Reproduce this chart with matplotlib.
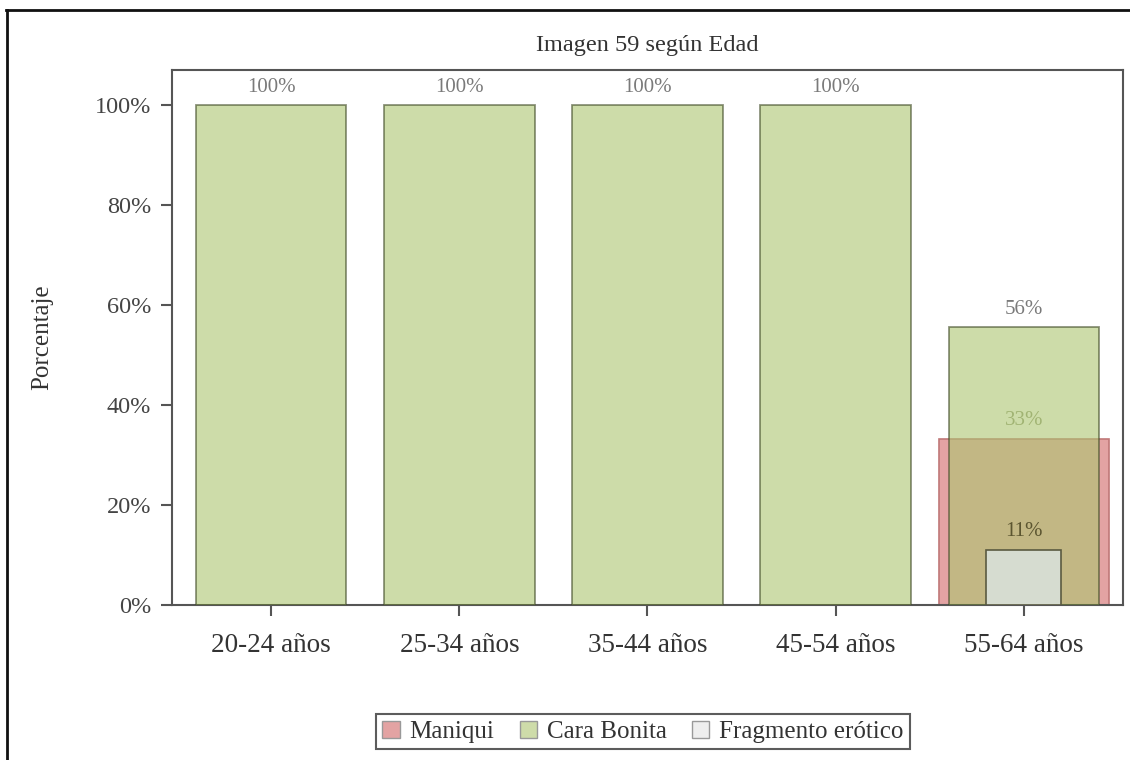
import numpy as np
import matplotlib
matplotlib.use("Agg")
import matplotlib.pyplot as plt
from matplotlib.lines import Line2D
from matplotlib.patches import Patch
from matplotlib.ticker import FuncFormatter

plt.rcParams['font.family'] = ['Liberation Serif', 'DejaVu Serif']

# data
categorias = ['20-24 años', '25-34 años', '35-44 años', '45-54 años', '55-64 años']
series = ['Maniqui', 'Cara Bonita', 'Fragmento erótico']
maniqui = [0, 0, 0, 0, 33.3]
cara_bonita = [100, 100, 100, 100, 55.6]
fragmento = [0, 0, 0, 0, 11.1]
etiquetas_y = [0, 20, 40, 60, 80, 100]

x = np.arange(len(categorias))

fig = plt.figure(figsize=(11.3, 7.6), dpi=100)
ax = fig.add_axes([0.1522, 0.2039, 0.8416, 0.704])

# red (wide), green (alpha), gray (narrow) overlapping like SAS
m = np.array(maniqui)
ax.bar(x[m > 0], m[m > 0], width=0.9, color='#e3a3a3', edgecolor='#c07878', linewidth=1.2, zorder=2)
for xi, v in zip(x, maniqui):
    if v > 0:
        ax.annotate('%d%%' % round(v), (xi, v), xytext=(0, 6), textcoords='offset points',
                    ha='center', va='bottom', fontsize=15, color='#8f9a78', zorder=3)

ax.bar(x, cara_bonita, width=0.8, color='#adc570', alpha=0.6, edgecolor='#3f4a25', linewidth=1.3, zorder=4)
for xi, v in zip(x, cara_bonita):
    ax.annotate('%d%%' % round(v), (xi, v), xytext=(0, 6), textcoords='offset points',
                ha='center', va='bottom', fontsize=15, color='#7a7a7a', zorder=5)

f = np.array(fragmento)
ax.bar(x[f > 0], f[f > 0], width=0.4, color='#d6dcd0', edgecolor='#5a5a40', linewidth=1.2, zorder=6)
for xi, v in zip(x, fragmento):
    if v > 0:
        ax.annotate('%d%%' % round(v), (xi, v), xytext=(0, 6), textcoords='offset points',
                    ha='center', va='bottom', fontsize=15, color='#5b5530', zorder=7)

ax.set_xlim(-0.527, 4.527)
ax.set_ylim(0, 107)
ax.set_xticks(x)
ax.set_xticklabels(categorias, fontsize=19.5, color='#333333')
ax.set_yticks(etiquetas_y)
ax.yaxis.set_major_formatter(FuncFormatter(lambda v, p: '%d%%' % v))
ax.tick_params(axis='y', labelsize=17.5, labelcolor='#444444', length=8, width=1.5, color='#555555', pad=7)
ax.tick_params(axis='x', length=8, width=1.5, color='#555555', pad=12)
for s in ax.spines.values():
    s.set_color('#555555')
    s.set_linewidth(1.5)

ax.set_ylabel('Porcentaje', fontsize=18, color='#333333', labelpad=30)
ax.set_title('Imagen 59 según Edad', fontsize=17.5, color='#333333', pad=14)

handles = [Patch(facecolor='#e3a3a3', edgecolor='#999999'),
           Patch(facecolor='#cedca9', edgecolor='#999999'),
           Patch(facecolor='#eeeeee', edgecolor='#999999')]
leg = fig.legend(handles, series, loc='center', bbox_to_anchor=(0.569, 0.037), ncol=3,
                 fontsize=18, frameon=True, fancybox=False, edgecolor='#333333',
                 handlelength=0.7, handleheight=0.7, handletextpad=0.4, columnspacing=1.0,
                 borderpad=0.25)
leg.get_frame().set_linewidth(1.5)
for t in leg.get_texts():
    t.set_color('#333333')

# outer frame (top and left edges)
fig.add_artist(Line2D([0.005, 1.0], [0.987, 0.987], color='#111111', linewidth=2))
fig.add_artist(Line2D([0.006, 0.006], [0.0, 0.987], color='#111111', linewidth=2))

fig.savefig('out.png', dpi=100)
